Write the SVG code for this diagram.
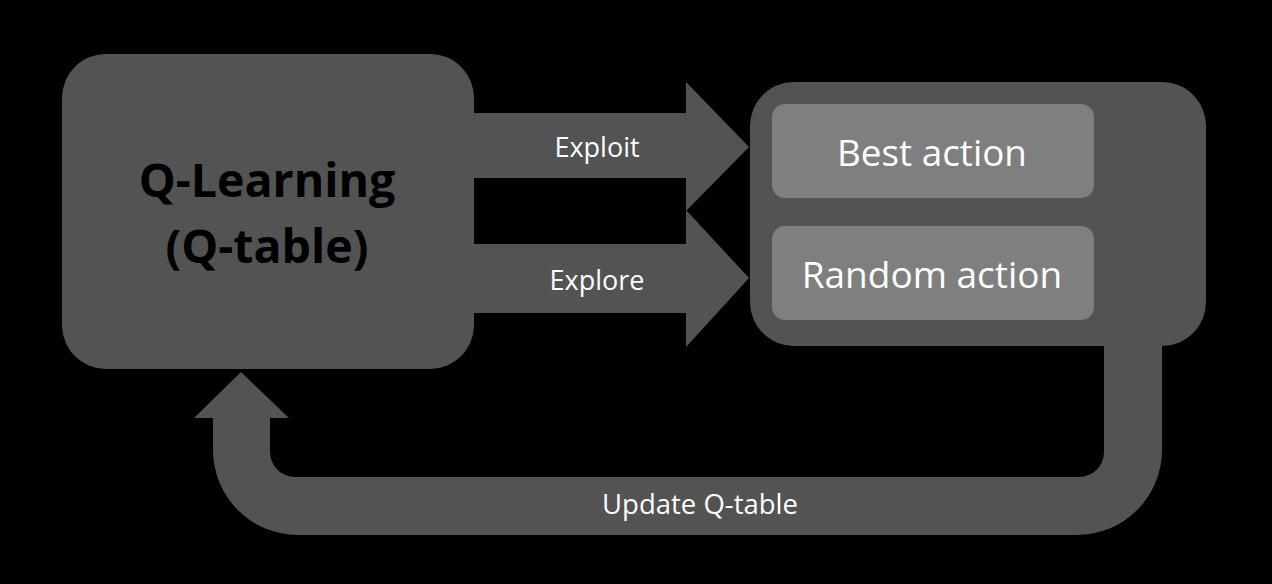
<svg xmlns="http://www.w3.org/2000/svg" width="1272" height="584" viewBox="0 0 1272 584">
<style>
.shape{fill:#535353}
.inner{fill:#7f7f7f}
.lbl{font-family:"Open Sans","Liberation Sans",sans-serif;fill:#ffffff;text-anchor:middle}
.title{font-family:"Open Sans","Liberation Sans",sans-serif;font-weight:bold;fill:#000000;text-anchor:middle}
</style>
<rect width="1272" height="584" fill="#000000"/>
<g id="connectors">
<g id="exploit-arrow">
<path class="shape" d="M 470 113 L 686 113 L 686 82 L 749 147 L 686 211 L 686 178 L 470 178 Z"/>
<text class="lbl" x="597" y="157" font-size="27">Exploit</text>
</g>
<g id="explore-arrow">
<path class="shape" d="M 470 244 L 686 244 L 686 210 L 749 278 L 686 347 L 686 313 L 470 313 Z"/>
<text class="lbl" x="597" y="290" font-size="27">Explore</text>
</g>
<g id="update-arrow">
<path class="shape" d="M 1104 340 L 1162 340 L 1162 450 A 85 85 0 0 1 1077 535 L 298 535 A 85 85 0 0 1 213 450 L 213 418 L 194 418 L 241 372 L 289 418 L 270 418 L 270 452 A 25 25 0 0 0 295 477 L 1079 477 A 25 25 0 0 0 1104 452 Z"/>
<text class="lbl" x="700" y="514" font-size="27.5">Update Q-table</text>
</g>
</g>
<g id="q-learning">
<rect class="shape" x="62" y="54" width="412" height="315" rx="44" ry="44"/>
<text class="title" x="267" y="197" font-size="46.5">Q-Learning</text>
<text class="title" x="267" y="263" font-size="46.5">(Q-table)</text>
</g>
<g id="actions">
<rect class="shape" x="750" y="82" width="456" height="264" rx="44" ry="44"/>
<g id="best-action">
<rect class="inner" x="772" y="104" width="322" height="94" rx="13" ry="13"/>
<text class="lbl" x="932" y="166" font-size="36.8">Best action</text>
</g>
<g id="random-action">
<rect class="inner" x="772" y="226" width="322" height="94" rx="13" ry="13"/>
<text class="lbl" x="932" y="288" font-size="37">Random action</text>
</g>
</g>
</svg>
